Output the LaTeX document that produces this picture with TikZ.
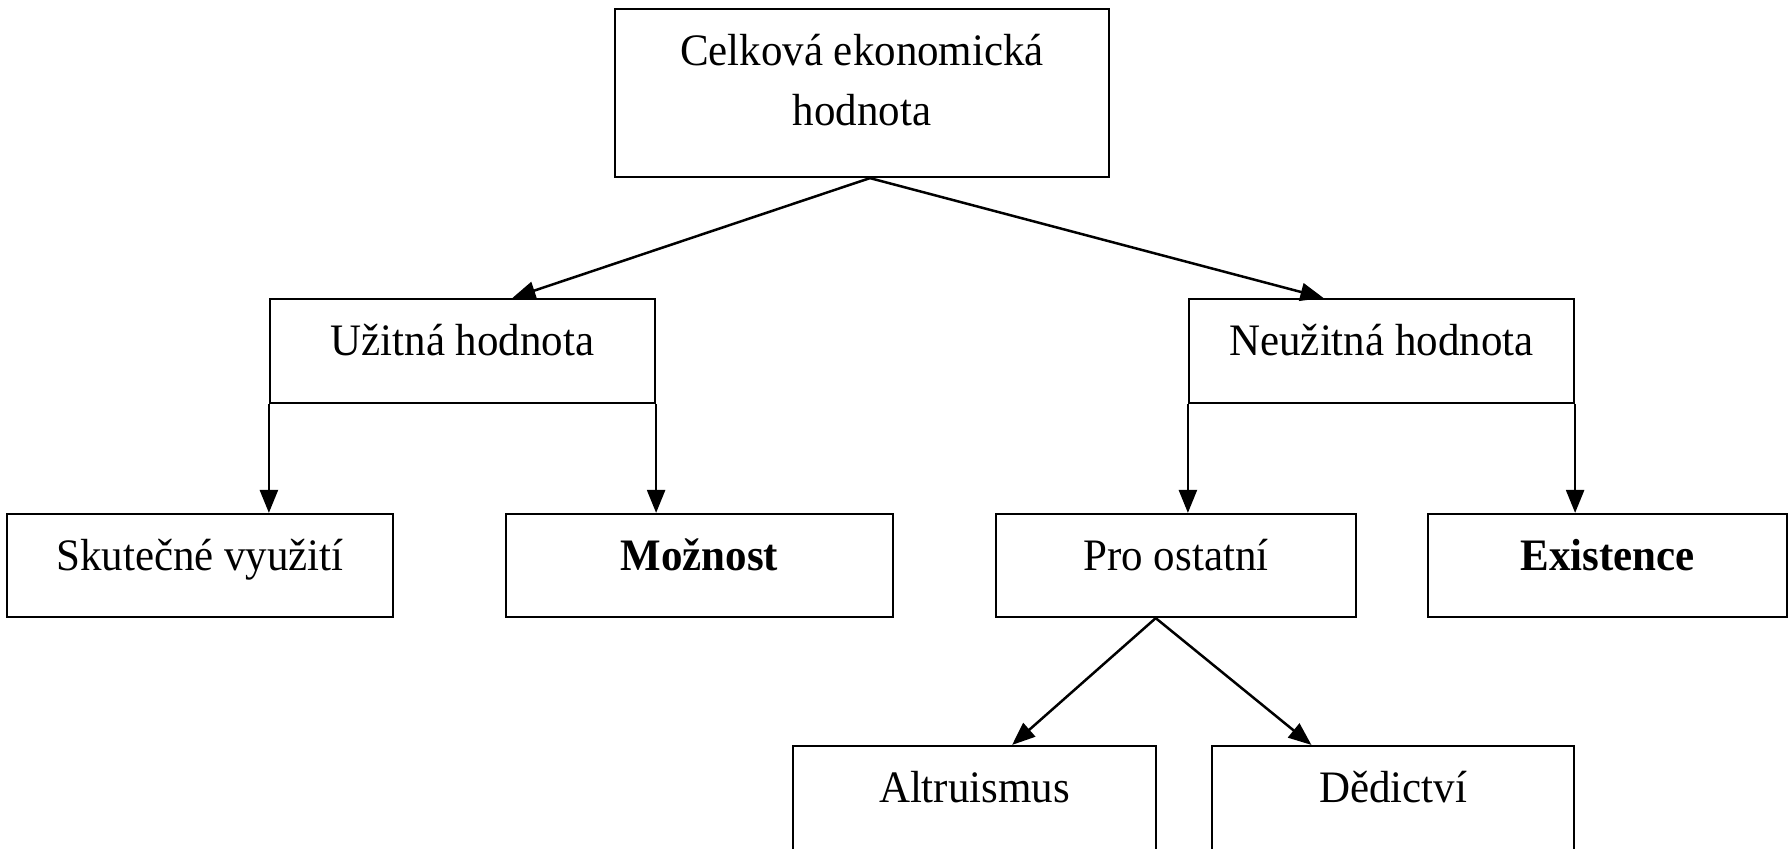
\documentclass[tikz,border=0pt]{standalone}
\usepackage{fontspec}
\setmainfont[FakeStretch=0.955]{Liberation Serif}
\usetikzlibrary{arrows.meta,calc}
\begin{document}
\begin{tikzpicture}[x=0.5pt,y=-0.5pt,
  box/.style={draw,line width=1.1pt,inner sep=0pt,rectangle},
  lbl/.style={inner sep=0pt,anchor=base,font=\fontsize{22.5}{30}\selectfont},
  conn/.style={line width=1.25pt,-{Triangle[length=11.5pt,width=9pt]}}]
\clip (0,0) rectangle (1791,848);
\fill[white] (0,0) rectangle (1791,848);
% boxes
\node[box,minimum width=247pt,minimum height=84pt] (top) at (862,93) {};
\node[box,minimum width=192.5pt,minimum height=52pt] (u) at (462.5,351) {};
\node[box,minimum width=192.5pt,minimum height=52pt] (n) at (1381.5,351) {};
\node[box,minimum width=193pt,minimum height=51.5pt] (s) at (200,565.5) {};
\node[box,minimum width=193.5pt,minimum height=51.5pt] (m) at (699.5,565.5) {};
\node[box,minimum width=180pt,minimum height=51.5pt] (p) at (1176,565.5) {};
\node[box,minimum width=179.5pt,minimum height=51.5pt] (e) at (1607.5,565.5) {};
\node[box,minimum width=181.5pt,minimum height=52.5pt] (a) at (974.5,798.5) {};
\node[box,minimum width=181pt,minimum height=52.5pt] (d) at (1393,798.5) {};
% labels
\node[lbl] (top-l1) at ([yshift=-29pt]top.north) {Celková ekonomická};
\node[lbl] (top-l2) at ([yshift=-59pt]top.north) {hodnota};
\node[lbl] (u-l) at ([yshift=-29pt]u.north) {Užitná hodnota};
\node[lbl] (n-l) at ([yshift=-29pt]n.north) {Neužitná hodnota};
\node[lbl] (s-l) at ([yshift=-29pt]s.north) {Skutečné využití};
\node[lbl,font=\fontsize{22.5}{30}\selectfont\bfseries] (m-l) at ([yshift=-29pt]m.north) {Možnost};
\node[lbl] (p-l) at ([yshift=-29pt]p.north) {Pro ostatní};
\node[lbl,font=\fontsize{22.5}{30}\selectfont\bfseries] (e-l) at ([yshift=-29pt]e.north) {Existence};
\node[lbl] (a-l) at ([yshift=-29pt]a.north) {Altruismus};
\node[lbl] (d-l) at ([yshift=-29pt]d.north) {Dědictví};
% connectors
\draw[conn] ($(top.south west)!0.516!(top.south east)$) -- ($(u.north west)!0.629!(u.north east)$);
\draw[conn] ($(top.south west)!0.516!(top.south east)$) -- ($(n.north west)!0.35!(n.north east)$);
\draw[conn] (u.south west) -- (u.south west |- s.north);
\draw[conn] (u.south east) -- (u.south east |- m.north);
\draw[conn] (n.south west) -- (n.south west |- p.north);
\draw[conn] (n.south east) -- (n.south east |- e.north);
\draw[conn] ($(p.south west)!0.444!(p.south east)$) -- ($(a.north west)!0.603!(a.north east)$);
\draw[conn] ($(p.south west)!0.444!(p.south east)$) -- ($(d.north west)!0.276!(d.north east)$);
\end{tikzpicture}
\end{document}
